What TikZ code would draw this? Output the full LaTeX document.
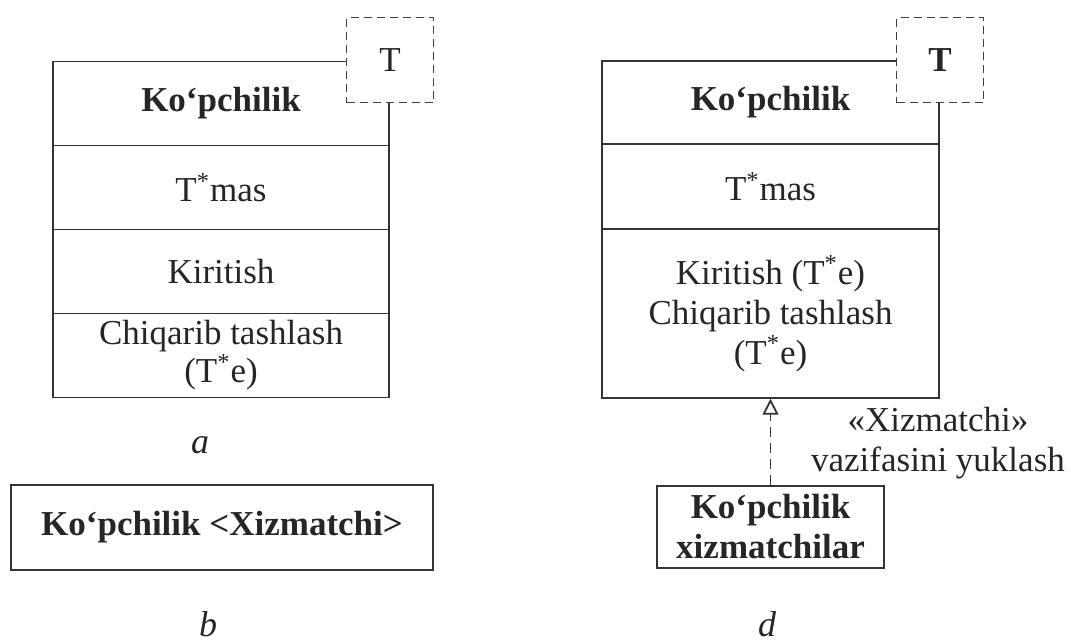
\documentclass[tikz,border=0pt]{standalone}
\usepackage{fontspec}
\setmainfont{Liberation Serif}
\usetikzlibrary{arrows.meta}

\begin{document}
\begin{tikzpicture}[x=0.5pt, y=-0.5pt,
        txt/.style={font=\fontsize{17.5}{20}\selectfont, text=black!85, align=center},
        compart/.style={txt, draw=black!80, line width=0.7pt, inner sep=0pt, minimum height=42pt},
        tmpl/.style={txt, draw=black!75, fill=white, dashed, dash pattern=on 4pt off 2.5pt, line width=0.8pt, minimum width=43.5pt, minimum height=42.5pt, inner sep=0pt},
        figlabel/.style={txt, font=\fontsize{18}{20}\selectfont\itshape, inner sep=0pt}]
                \useasboundingbox (0,0) rectangle (1071,643);

                % a
                \node[compart, minimum width=168pt] (nameA) at (221,103.5) {\bfseries Ko‘pchilik};
                \node[compart, minimum width=168pt] (attrA) at (221,187.5) {T\textsuperscript{*}mas};
                \node[compart, minimum width=168pt] (opA) at (221,271.5) {Kiritish};
                \node[compart, minimum width=168pt] (opB) at (221,355.5) {Chiqarib tashlash\\[-1pt](T\textsuperscript{*}e)};
                \node[tmpl] (tA) at (390,60) {T};
                \node[figlabel] (labA) at (200,445) {a};

                % b
                \node[compart, minimum width=211pt, minimum height=42.5pt] (bound) at (222,527.5) {\bfseries Ko‘pchilik <Xizmatchi>};
                \node[figlabel] (labB) at (208,624) {b};

                % d
                \node[compart, minimum width=168.5pt, minimum height=41.5pt] (nameD) at (770.5,102.5) {\bfseries Ko‘pchilik};
                \node[compart, minimum width=168.5pt] (attrD) at (770.5,186.5) {T\textsuperscript{*}mas};
                \node[compart, minimum width=168.5pt, minimum height=84.5pt] (opD) at (770.5,313.5) {Kiritish (T\textsuperscript{*}e)\\Chiqarib tashlash\\(T\textsuperscript{*}e)};
                \node[tmpl] (tD) at (940,60) {\bfseries T};
                \node[compart, minimum width=113.5pt, minimum height=41pt] (serv) at (770.5,527) {\bfseries Ko‘pchilik\\\bfseries xizmatchilar};
                \node[txt] (role) at (938,443) {«Xizmatchi»\\vazifasini yuklash};
                \node[figlabel] (labD) at (767,624) {d};

                \draw[black!80, line width=0.9pt, dashed, dash pattern=on 5pt off 3pt,
                      -{Triangle[open, length=8pt, width=8pt]}] (serv.north) -- (opD.south);
            \end{tikzpicture}
\end{document}
